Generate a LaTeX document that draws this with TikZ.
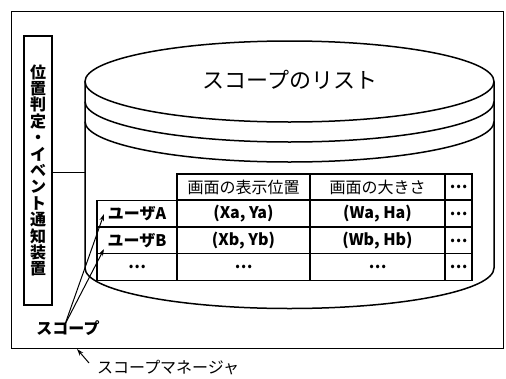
\documentclass[tikz,border=0pt]{standalone}
\usepackage{fontspec}
\setmainfont{Noto Sans CJK JP}
\usetikzlibrary{arrows.meta}
\begin{document}
\begin{tikzpicture}[x=1pt,y=-1pt,
  box/.style={draw, line width=1.1pt, inner sep=0pt},
  cyl/.style={line width=1.5pt},
  cell/.style={draw, line width=1.3pt, fill=white, inner sep=0pt, minimum height=26.5pt, font=\fontsize{16}{18}\selectfont\bfseries},
  hcell/.style={cell, font=\fontsize{16}{18}\selectfont},
  lbl/.style={inner sep=0pt, font=\fontsize{16}{18}\selectfont\bfseries},
  arr/.style={line width=1pt, -{Stealth[length=7pt,width=4.5pt]}}]
\useasboundingbox (0,0) rectangle (506,378);
\fill[white] (0,0) rectangle (506,378);
% outer manager box
\node[box, minimum width=492pt, minimum height=337pt, anchor=north west] (mgr) at (11,11) {};
% vertical device box
\node[box, minimum width=28pt, minimum height=269pt, align=center,
  font=\fontsize{16}{16.4}\selectfont\bfseries] (dev) at (38,170.5)
  {位\\置\\判\\定\\・\\イ\\ベ\\ン\\ト\\通\\知\\装\\置};
% cylinder
\draw[cyl] (289.5,81.5) ellipse [x radius=204.5pt, y radius=40.5pt];
\draw[cyl] (85,101.5) arc[start angle=180, end angle=360, x radius=204.5pt, y radius=40.5pt];
\draw[cyl] (85,121.5) arc[start angle=180, end angle=360, x radius=204.5pt, y radius=40.5pt];
\draw[cyl] (85,81.5) -- (85,268)
  arc[start angle=180, end angle=360, x radius=204.5pt, y radius=40.5pt]
  -- (494,81.5);
\coordinate (cylL) at (85,172);
\node[inner sep=0pt, font=\fontsize{22}{24}\selectfont] (title) at (290,80) {スコープのリスト};
% connector device -> cylinder
\draw[line width=1pt] (dev.east |- cylL) -- (cylL);
% table header
\node[hcell, minimum width=133pt, minimum height=26pt] (h2) at (243.5,187) {画面の表示位置};
\node[hcell, minimum width=135pt, minimum height=26pt] (h3) at (377.5,187) {画面の大きさ};
\node[cell, minimum width=27pt, minimum height=26pt] (h4) at (458.5,187) {…};
% row A
\node[cell, minimum width=80pt] (a1) at (137,213.5) {ユーザA};
\node[cell, minimum width=133pt] (a2) at (243.5,213.5) {(Xa, Ya)};
\node[cell, minimum width=135pt] (a3) at (377.5,213.5) {(Wa, Ha)};
\node[cell, minimum width=27pt] (a4) at (458.5,213.5) {…};
% row B
\node[cell, minimum width=80pt] (b1) at (137,240.5) {ユーザB};
\node[cell, minimum width=133pt] (b2) at (243.5,240.5) {(Xb, Yb)};
\node[cell, minimum width=135pt] (b3) at (377.5,240.5) {(Wb, Hb)};
\node[cell, minimum width=27pt] (b4) at (458.5,240.5) {…};
% row dots
\node[cell, minimum width=80pt] (c1) at (137,267) {…};
\node[cell, minimum width=133pt] (c2) at (243.5,267) {…};
\node[cell, minimum width=135pt] (c3) at (377.5,267) {…};
\node[cell, minimum width=27pt] (c4) at (458.5,267) {…};
% scope label and arrows
\node[lbl] (scope) at (68,328) {スコープ};
\coordinate (tipA) at (104,214);
\coordinate (tipB) at (104,249);
\draw[arr] ([xshift=-3pt,yshift=-4pt]scope.north) -- (tipA);
\draw[arr] ([xshift=-3pt,yshift=-4pt]scope.north) -- (tipB);
% manager label and arrow
\node[inner sep=0pt, font=\fontsize{16}{18}\selectfont, anchor=west] (mlabel) at (97,368) {スコープマネージャ};
\coordinate (mtail) at (89,363);
\coordinate (mtip) at (77,349);
\draw[arr] (mtail) -- (mtip);
\end{tikzpicture}
\end{document}
